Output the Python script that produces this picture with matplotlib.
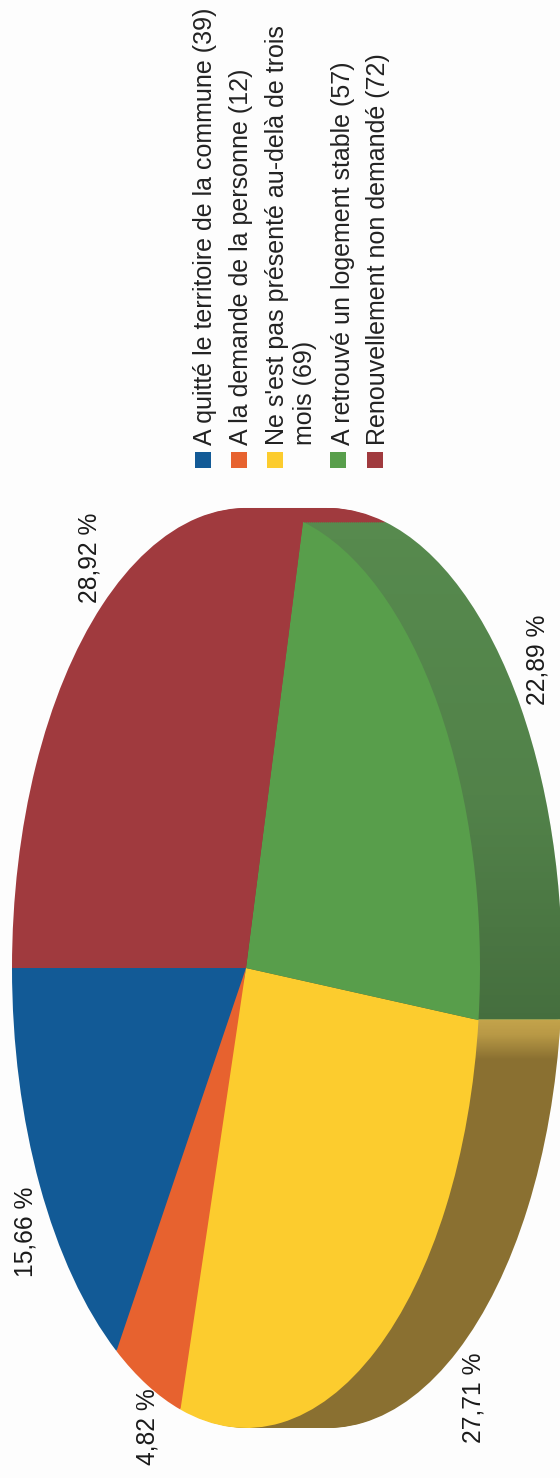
import numpy as np
import matplotlib
matplotlib.use("Agg")
import matplotlib.pyplot as plt
from matplotlib.patches import Rectangle, Ellipse

plt.rcParams['font.family'] = ['Liberation Sans', 'DejaVu Sans']

# Data
categories = ["A quitté le territoire de la commune", "A la demande de la personne",
              "Ne s'est pas présenté au-delà de trois\nmois", "A retrouvé un logement stable",
              "Renouvellement non demandé"]
counts = [39, 12, 69, 57, 72]
top_colors = ["#125A96", "#E7622F", "#FCCC2E", "#589E4B", "#A03A3E"]
side_colors = ["#125A96", "#E7622F", "#8A7031", "#578A4E", "#A03A3E"]

# Layout, in pixels of the 560x1478 picture
W, H = 560, 1478
cx, cy = 246, 968
rx, ry = 234, 460
depth = 82
label_pos = [(25, 1277), (148, 1465), (473, 1443), (538, 705), (89, 603)]
legend_x = [205, 241, 291, 343, 378]
marker_x = [203, 239, 275, 338, 375]

fig = plt.figure(figsize=(W / 100, H / 100), dpi=100, facecolor="#FDFDFD")
ax = fig.add_axes([0, 0, 1, 1])

# the side wall: same pie pushed towards the right, drawn many times
for dx in np.arange(depth, 0, -2):
    ax.pie(counts, colors=side_colors, startangle=180, center=(dx / rx, 0), radius=1,
           wedgeprops={"linewidth": 0, "zorder": 1})
ax.pie(counts, colors=top_colors, startangle=180, center=(0, 0), radius=1,
       wedgeprops={"linewidth": 0, "zorder": 3})

# shading of the side wall, green darkens downwards, yellow has a light strip at its edge
rows = np.arange(500, 1100)
shade = np.zeros((len(rows), 1, 4))
split = rows < 1020
shade[split, 0, 3] = np.interp(rows[split], [520, 800, 1020], [0.0, 0.06, 0.2])
shade[~split, 0, :3] = [1.0, 0.85, 0.4]
shade[~split, 0, 3] = np.interp(rows[~split], [1020, 1035, 1060], [0.5, 0.4, 0.0])
ext = (0, W / rx, (cy - rows[-1]) / ry, (cy - rows[0]) / ry)
im = ax.imshow(shade, extent=ext, aspect="auto", zorder=2, interpolation="bilinear")
wall = Ellipse((depth / rx, 0), 2, 2, transform=ax.transData)
im.set_clip_path(wall)

ax.set_aspect("auto")
ax.set_xlim(-cx / rx, (W - cx) / rx)
ax.set_ylim((cy - H) / ry, cy / ry)
ax.axis("off")


def to_fig(x, y):
    return x / W, 1 - y / H


# Percent labels
total = sum(counts)
for n, (x, y) in zip(counts, label_pos):
    txt = f"{100 * n / total:.2f} %".replace(".", ",")
    fx, fy = to_fig(x, y)
    fig.text(fx, fy, txt, rotation=90, ha="center", va="bottom", fontsize=17.7, color="#1a1a1a")

# Legend
for name, n, x in zip(categories, counts, legend_x):
    fx, fy = to_fig(x, 445)
    fig.text(fx, fy, f"{name} ({n})", rotation=90, ha="center", va="bottom", fontsize=18,
             color="#222222", linespacing=1.2, multialignment="left")

for col, x in zip(top_colors, marker_x):
    fx, fy = to_fig(x - 8, 468)
    fig.patches.append(Rectangle((fx, fy), 16 / W, 16 / H, transform=fig.transFigure,
                                 facecolor=col, edgecolor="none"))

fig.savefig("out.png", dpi=100, facecolor=fig.get_facecolor())
